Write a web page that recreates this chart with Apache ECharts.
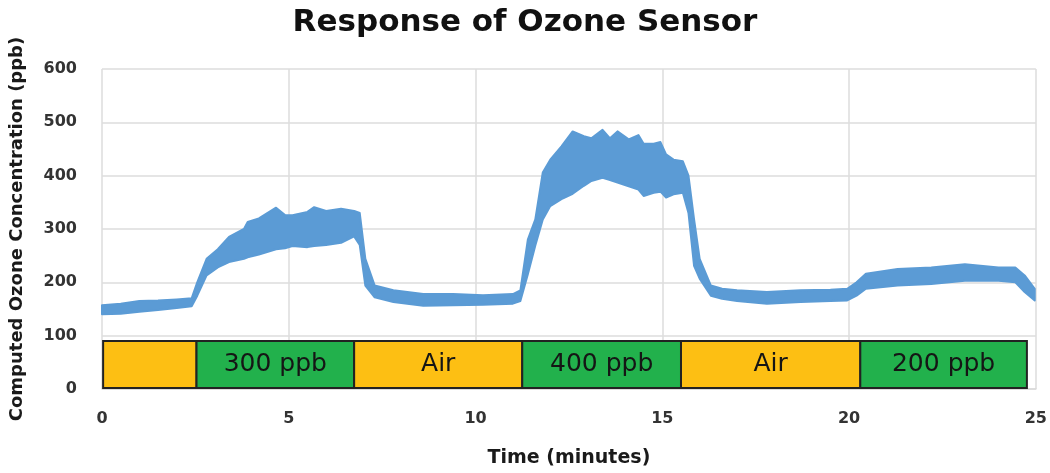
<!DOCTYPE html>
<html><head><meta charset="utf-8">
<script src="https://cdn.jsdelivr.net/npm/echarts@6/dist/echarts.min.js"></script>
<style>html,body{margin:0;padding:0;background:#fff}#c{width:1050px;height:473px}</style>
</head><body><div id="c"></div>
<script>
// Time (minutes) sample points, with lower / upper envelope of the noisy sensor trace (ppb)
const times = [0, 0.5, 1.0, 1.5, 2.0, 2.4, 2.55, 2.8, 3.1, 3.4, 3.8, 3.9, 4.2, 4.66, 4.9, 5.1, 5.5, 5.68, 6.0, 6.4, 6.75, 6.9, 7.05, 7.3, 7.8, 8.6, 9.4, 10.2, 11.0, 11.2, 11.4, 11.6, 11.8, 12.0, 12.3, 12.6, 12.9, 13.1, 13.4, 13.6, 13.8, 14.1, 14.36, 14.5, 14.77, 14.95, 15.1, 15.3, 15.55, 15.7, 15.85, 16.0, 16.3, 16.6, 17.0, 17.8, 18.7, 19.5, 19.95, 20.2, 20.45, 21.3, 22.2, 23.1, 24.0, 24.45, 24.7, 24.97];
const lower = [140, 141, 145, 148, 152, 155, 175, 213, 228, 238, 244, 247, 252, 262, 264, 268, 266, 268, 270, 274, 286, 270, 194, 172, 163, 156, 157, 158, 160, 165, 215, 269, 318, 343, 356, 366, 381, 390, 396, 392, 387, 380, 374, 362, 368, 370, 359, 365, 368, 330, 231, 207, 175, 169, 165, 160, 163, 165, 166, 175, 188, 194, 197, 203, 203, 200, 182, 166];
const upper = [157, 160, 165, 166, 168, 170, 200, 244, 262, 285, 300, 313, 320, 340, 326, 326, 332, 341, 334, 338, 334, 330, 244, 194, 185, 178, 178, 176, 178, 185, 280, 318, 406, 430, 455, 483, 474, 470, 486, 470, 483, 468, 476, 460, 460, 463, 440, 430, 427, 400, 318, 244, 194, 188, 185, 182, 185, 186, 188, 200, 216, 225, 228, 234, 228, 228, 213, 188];

// Gas-exposure segments shown as the bar strip
const segStart = [0.03, 2.53, 6.75, 11.25, 15.5, 20.3];
const segEnd = [2.53, 6.75, 11.25, 15.5, 20.3, 24.76];
const segLabels = ['', '300 ppb', 'Air', '400 ppb', 'Air', '200 ppb'];
const segGas = ['air', 'ozone', 'air', 'ozone', 'air', 'ozone'];
const stripLow = 2, stripHigh = 90;

const xTicks = [0, 5, 10, 15, 20, 25];
const yTicks = [0, 100, 200, 300, 400, 500, 600];

const FONT = 'DejaVu Sans';
const BLUE = '#5b9bd5';
const gasColor = { air: '#fdbf13', ozone: '#22b14c' };

const chart = echarts.init(document.getElementById('c'), null, { renderer: 'canvas' });

const bandData = times.map((t, i) => [t, lower[i], upper[i]]);
const segData = segStart.map((s, i) => [s, segEnd[i], stripLow, stripHigh, i]);

chart.setOption({
  backgroundColor: '#fff',
  animation: false,
  title: {
    text: 'Response of Ozone Sensor',
    left: 'center',
    top: 2,
    textStyle: { fontFamily: FONT, fontWeight: 'bold', fontSize: 31, color: '#111' }
  },
  grid: { left: 98, right: 12, top: 69, bottom: 82, containLabel: false },
  xAxis: {
    type: 'value',
    min: xTicks[0], max: xTicks[xTicks.length - 1], interval: 5,
    name: 'Time (minutes)',
    nameLocation: 'middle',
    nameGap: 60,
    nameTextStyle: { fontFamily: FONT, fontWeight: 'bold', fontSize: 19, color: '#1a1a1a' },
    axisLine: { show: true, lineStyle: { color: '#d9d9d9', width: 1.5 } },
    axisTick: { show: false },
    axisLabel: { margin: 22, fontFamily: FONT, fontWeight: 'bold', fontSize: 16, color: '#333' },
    splitLine: { show: true, lineStyle: { color: '#dcdcdc', width: 1.5 } }
  },
  yAxis: {
    type: 'value',
    min: yTicks[0], max: yTicks[yTicks.length - 1], interval: 100,
    name: 'Computed Ozone Concentration (ppb)',
    nameLocation: 'middle',
    nameGap: 76,
    nameRotate: 90,
    nameTextStyle: { fontFamily: FONT, fontWeight: 'bold', fontSize: 18, color: '#1a1a1a' },
    axisLine: { show: false },
    axisTick: { show: false },
    axisLabel: { margin: 25, fontFamily: FONT, fontWeight: 'bold', fontSize: 16, color: '#333' },
    splitLine: { show: true, lineStyle: { color: '#dcdcdc', width: 1.5 } }
  },
  series: [
    {
      type: 'custom',
      name: 'segments',
      data: segData,
      encode: { x: [0, 1], y: [2, 3] },
      z: 3,
      renderItem: function (params, api) {
        const i = api.value(4);
        const p0 = api.coord([api.value(0), api.value(3)]);
        const p1 = api.coord([api.value(1), api.value(2)]);
        return {
          type: 'rect',
          shape: { x: p0[0], y: p0[1], width: p1[0] - p0[0], height: p1[1] - p0[1] },
          style: { fill: gasColor[segGas[i]], stroke: '#222', lineWidth: 2 },
          textContent: {
            style: { text: segLabels[i], fontFamily: FONT, fontSize: 25, fill: '#151515' }
          },
          textConfig: { position: 'inside' }
        };
      }
    },
    {
      type: 'custom',
      name: 'Ozone sensor response',
      data: bandData,
      encode: { x: 0, y: [1, 2] },
      z: 4,
      renderItem: function (params, api) {
        if (params.dataIndex !== 0) return null;
        const top = times.map((t, i) => api.coord([t, upper[i]]));
        const bot = times.map((t, i) => api.coord([t, lower[i]])).reverse();
        return {
          type: 'polygon',
          shape: { points: top.concat(bot) },
          style: { fill: BLUE, stroke: BLUE, lineWidth: 2, lineJoin: 'round' }
        };
      }
    }
  ]
});
</script>
</body></html>
